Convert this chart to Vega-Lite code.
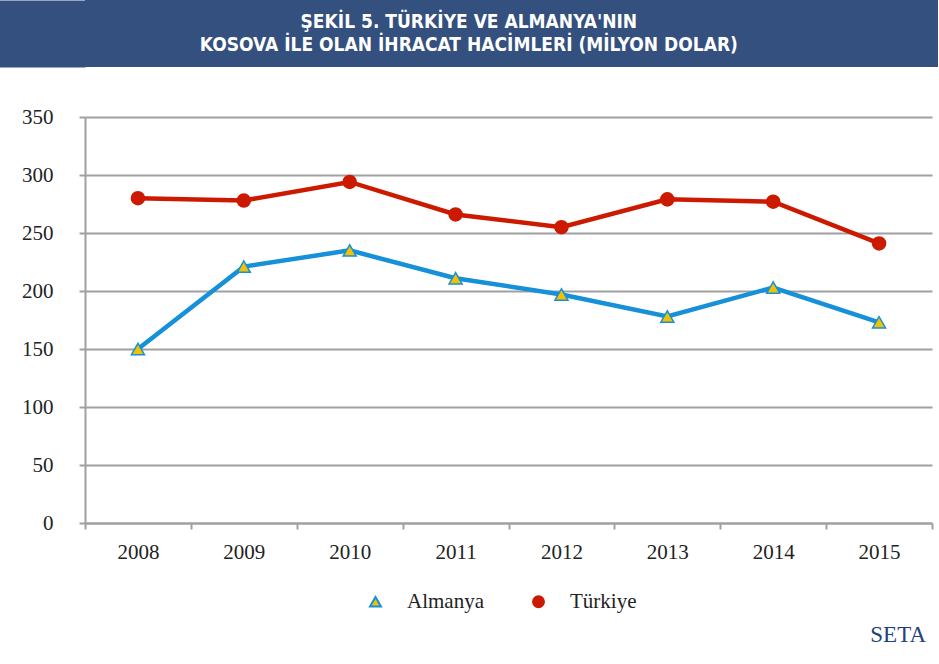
{
  "$schema": "https://vega.github.io/schema/vega-lite/v6.json",
  "padding": 0,
  "spacing": 39,
  "columns": 1,
  "background": "white",
  "config": {"font": "Liberation Serif"},
  "title": {"text": "SETA", "orient": "bottom", "anchor": "end", "font": "Liberation Serif", "fontSize": 23, "fontWeight": "normal", "color": "#24427a", "offset": 12, "dx": -12},
  "datasets": {
    "header": [
      {"line": 1, "text": "ŞEKİL 5. TÜRKİYE VE ALMANYA'NIN"},
      {"line": 2, "text": "KOSOVA İLE OLAN İHRACAT HACİMLERİ (MİLYON DOLAR)"}
    ],
    "trade": [
      {"year": "2008", "country": "Almanya", "value": 150},
      {"year": "2009", "country": "Almanya", "value": 221},
      {"year": "2010", "country": "Almanya", "value": 235},
      {"year": "2011", "country": "Almanya", "value": 211},
      {"year": "2012", "country": "Almanya", "value": 197},
      {"year": "2013", "country": "Almanya", "value": 178},
      {"year": "2014", "country": "Almanya", "value": 203},
      {"year": "2015", "country": "Almanya", "value": 173},
      {"year": "2008", "country": "Türkiye", "value": 280},
      {"year": "2009", "country": "Türkiye", "value": 278},
      {"year": "2010", "country": "Türkiye", "value": 294},
      {"year": "2011", "country": "Türkiye", "value": 266},
      {"year": "2012", "country": "Türkiye", "value": 255},
      {"year": "2013", "country": "Türkiye", "value": 279},
      {"year": "2014", "country": "Türkiye", "value": 277},
      {"year": "2015", "country": "Türkiye", "value": 241}
    ]
  },
  "concat": [
    {
      "width": 853,
      "height": 67,
      "view": {"fill": "#34507e", "stroke": null},
      "data": {"name": "header"},
      "mark": {"type": "text", "font": "DejaVu Sans Condensed", "fontWeight": "bold", "fontSize": 19, "color": "white", "align": "center", "baseline": "middle"},
      "encoding": {
        "text": {"field": "text"},
        "y": {"field": "line", "type": "ordinal", "scale": {"type": "point", "padding": 0.9},
          "axis": {"title": null, "labels": false, "ticks": false, "grid": false, "domain": true, "domainColor": "#34507e", "domainWidth": 86, "offset": 43}},
        "x": {"datum": 0.45, "type": "quantitative", "scale": {"domain": [0, 1]}, "axis": null}
      }
    },
    {
      "width": 847,
      "height": 406,
      "view": {"stroke": null},
      "data": {"name": "trade"},
      "encoding": {
        "x": {
          "field": "year", "type": "ordinal",
          "scale": {"type": "band", "paddingInner": 0, "paddingOuter": 0},
          "axis": {"title": null, "labelAngle": 0, "tickBand": "extent", "domainColor": "#a0a0a0", "domainWidth": 2, "tickColor": "#a0a0a0", "tickWidth": 2, "tickSize": 6, "labelFont": "Liberation Serif", "labelFontSize": 21, "labelColor": "#222", "labelPadding": 12}
        },
        "y": {
          "field": "value", "type": "quantitative",
          "scale": {"domain": [0, 350], "nice": false},
          "axis": {"title": " ", "titleFontSize": 1, "titlePadding": 20, "values": [0, 50, 100, 150, 200, 250, 300, 350], "labelOverlap": false, "grid": true, "gridColor": "#a0a0a0", "gridWidth": 2, "domainColor": "#a0a0a0", "domainWidth": 2, "tickColor": "#a0a0a0", "tickWidth": 2, "tickSize": 6, "labelFont": "Liberation Serif", "labelFontSize": 21, "labelColor": "#222", "labelPadding": 26}
        }
      },
      "layer": [
        {
          "mark": {"type": "line", "strokeWidth": 4.5},
          "encoding": {
            "color": {"field": "country", "type": "nominal", "scale": {"domain": ["Almanya", "Türkiye"], "range": ["#1690d8", "#cc1a00"]},
              "legend": {"title": null, "orient": "none", "legendX": 280, "legendY": 591, "direction": "horizontal", "labelFont": "Liberation Serif", "labelFontSize": 21, "labelColor": "#222", "symbolSize": 120, "symbolStrokeWidth": 2, "columnPadding": 44, "labelOffset": 21}
            }
          }
        },
        {
          "mark": {"type": "point", "opacity": 1, "strokeWidth": 1.5, "size": 170},
          "encoding": {
            "shape": {"field": "country", "type": "nominal", "scale": {"domain": ["Almanya", "Türkiye"], "range": ["triangle-up", "circle"]},
              "legend": {"title": null, "orient": "none", "legendX": 280, "legendY": 591, "direction": "horizontal", "labelFont": "Liberation Serif", "labelFontSize": 21, "labelColor": "#222", "symbolSize": 120, "symbolStrokeWidth": 2, "columnPadding": 44, "labelOffset": 21}
            },
            "fill": {"field": "country", "type": "nominal", "scale": {"domain": ["Almanya", "Türkiye"], "range": ["#f2c200", "#cc1a00"]},
              "legend": {"title": null, "orient": "none", "legendX": 280, "legendY": 591, "direction": "horizontal", "labelFont": "Liberation Serif", "labelFontSize": 21, "labelColor": "#222", "symbolSize": 120, "symbolStrokeWidth": 2, "columnPadding": 44, "labelOffset": 21}
            },
            "stroke": {"field": "country", "type": "nominal", "scale": {"domain": ["Almanya", "Türkiye"], "range": ["#1690d8", "#cc1a00"]},
              "legend": {"title": null, "orient": "none", "legendX": 280, "legendY": 591, "direction": "horizontal", "labelFont": "Liberation Serif", "labelFontSize": 21, "labelColor": "#222", "symbolSize": 120, "symbolStrokeWidth": 2, "columnPadding": 44, "labelOffset": 21}
            }
          }
        }
      ]
    }
  ]
}
